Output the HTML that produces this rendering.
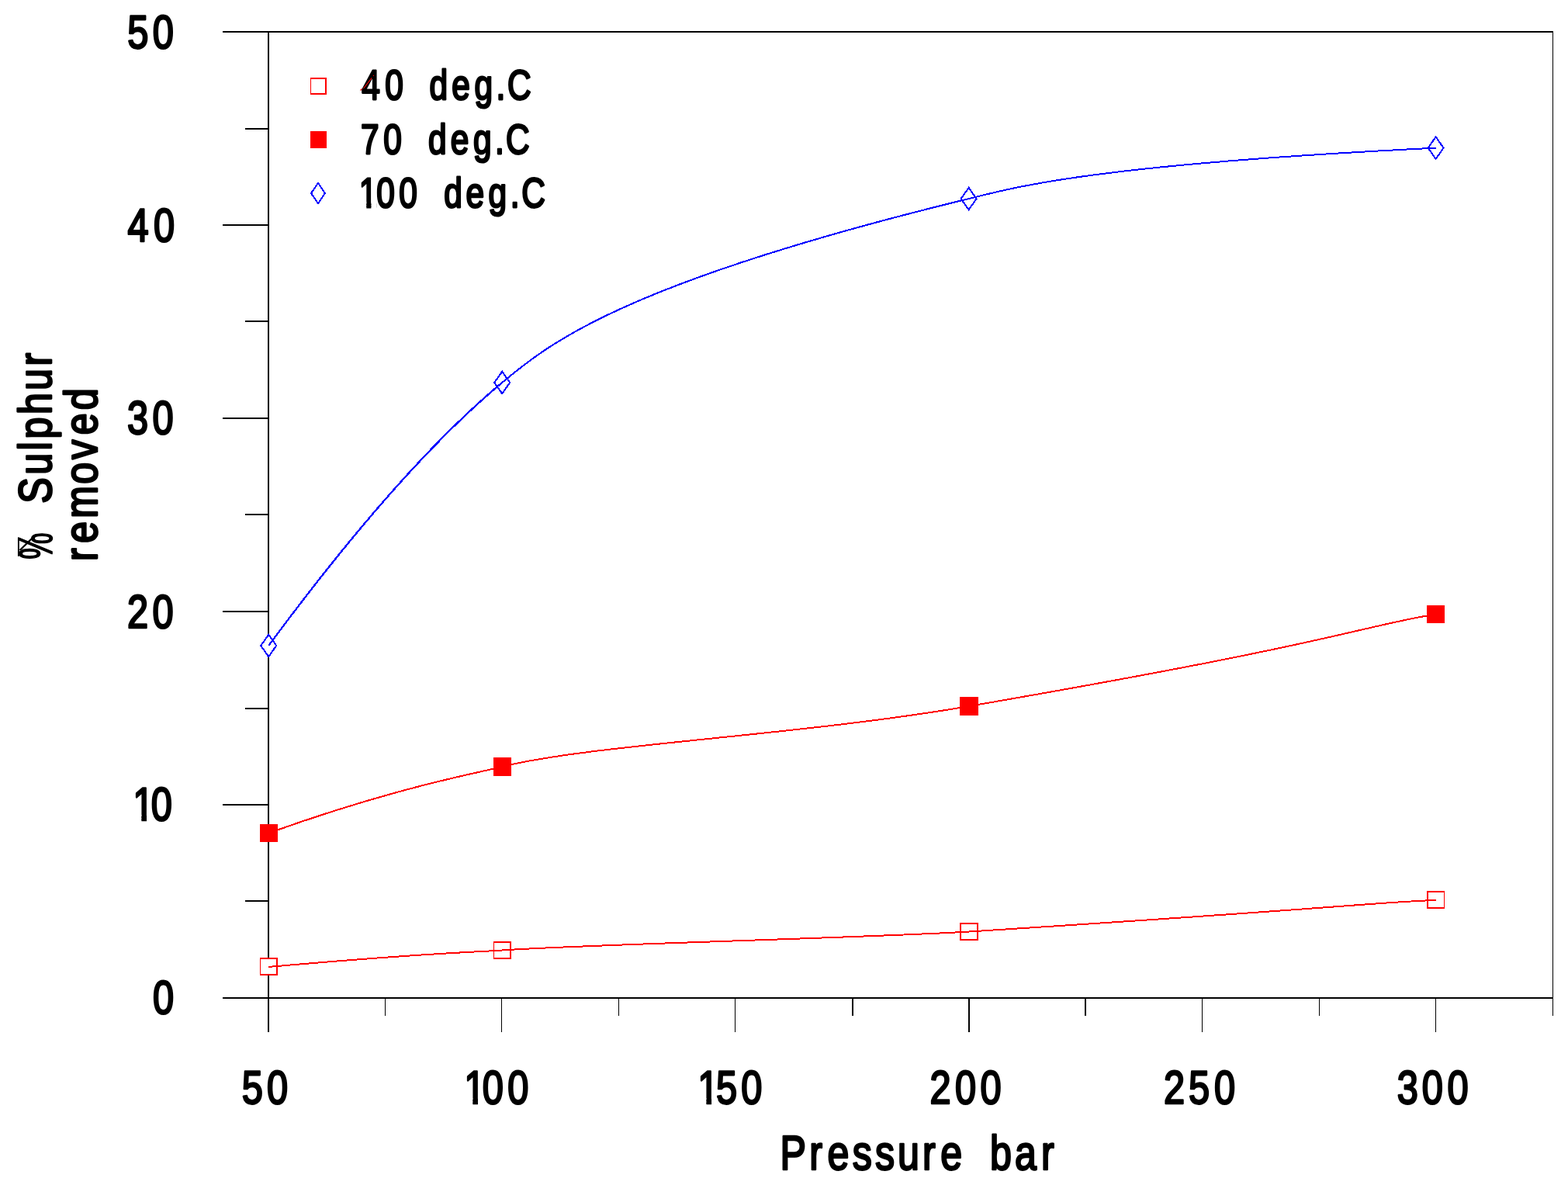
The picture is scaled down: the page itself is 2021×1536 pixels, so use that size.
<!DOCTYPE html>
<html lang="en"><head><meta charset="utf-8"><title>% Sulphur removed vs Pressure bar</title>
<style>html,body{margin:0;padding:0;background:#fff;overflow:hidden}svg{display:block}text{fill:#000;white-space:pre;text-rendering:geometricPrecision}</style></head><body>
<svg width="2021" height="1536" viewBox="0 0 2021 1536" role="img" aria-label="Percent sulphur removed versus pressure (bar) at 40, 70 and 100 deg.C">
<rect x="0" y="0" width="2021" height="1536" fill="#fff"/>
<defs><clipPath id="c1"><path d="M718.60,-80 H760.46 V-7.05 H760.46 V30 H752.34 V-7.05 H718.60 Z M768.04,-80 H4000 V40 H770.74 V-7.05 H768.04 Z"/></clipPath><clipPath id="c2"><path d="M1090.30,-80 H1132.16 V-7.05 H1132.16 V30 H1124.04 V-7.05 H1090.30 Z M1140.08,-80 H4000 V40 H1142.44 V-7.05 H1140.08 Z"/></clipPath><clipPath id="c3"><path d="M191.44,-80 H233.30 V-7.05 H233.30 V30 H225.18 V-7.05 H191.44 Z M240.91,-80 H4000 V40 H243.58 V-7.05 H240.91 Z"/></clipPath><clipPath id="c4"><path d="M569.56,-80 H609.37 V-6.63 H609.37 V30 H601.69 V-6.63 H569.56 Z M618.15,-80 H4000 V40 H618.61 V-6.63 H618.15 Z"/></clipPath></defs>
<g shape-rendering="crispEdges"><rect x="287" y="40" width="1715" height="2" fill="#000"/><rect x="287" y="1285" width="1715" height="2" fill="#000"/><rect x="345" y="40" width="2" height="1290" fill="#000"/><rect x="2001" y="40" width="1" height="1269" fill="#000"/><rect x="287" y="289" width="59" height="2" fill="#000"/><rect x="287" y="538" width="59" height="2" fill="#000"/><rect x="287" y="787" width="59" height="2" fill="#000"/><rect x="287" y="1036" width="59" height="2" fill="#000"/><rect x="316" y="165" width="30" height="2" fill="#000"/><rect x="316" y="413" width="30" height="2" fill="#000"/><rect x="316" y="662" width="30" height="2" fill="#000"/><rect x="316" y="912" width="30" height="2" fill="#000"/><rect x="316" y="1160" width="30" height="2" fill="#000"/><rect x="496" y="1286" width="1" height="23" fill="#000"/><rect x="646" y="1286" width="1" height="44" fill="#000"/><rect x="797" y="1286" width="1" height="23" fill="#000"/><rect x="947" y="1286" width="1" height="44" fill="#000"/><rect x="1098" y="1286" width="2" height="23" fill="#000"/><rect x="1248" y="1286" width="2" height="44" fill="#000"/><rect x="1398" y="1286" width="2" height="23" fill="#000"/><rect x="1549" y="1286" width="1" height="44" fill="#000"/><rect x="1700" y="1286" width="1" height="23" fill="#000"/><rect x="1850" y="1286" width="1" height="44" fill="#000"/></g>
<g shape-rendering="crispEdges"><rect x="335" y="1234" width="23" height="23" fill="#f00"/><rect x="336" y="1236" width="20" height="19" fill="#fff"/><rect x="636" y="1213" width="23" height="23" fill="#f00"/><rect x="637" y="1215" width="20" height="19" fill="#fff"/><rect x="1237" y="1189" width="24" height="23" fill="#f00"/><rect x="1239" y="1191" width="20" height="19" fill="#fff"/><rect x="1839" y="1148" width="23" height="23" fill="#f00"/><rect x="1841" y="1150" width="20" height="19" fill="#fff"/><rect x="335" y="1062" width="23" height="23" fill="#f00"/><rect x="636" y="976" width="23" height="24" fill="#f00"/><rect x="1237" y="898" width="24" height="24" fill="#f00"/><rect x="1839" y="780" width="23" height="23" fill="#f00"/><path d="M346.2,817.8 L356.2,832.0 L346.2,846.2 L336.2,832.0 Z" fill="#fff" stroke="#00f" stroke-width="2" stroke-linejoin="miter"/><path d="M647.2,478.8 L657.2,493.0 L647.2,507.2 L637.2,493.0 Z" fill="#fff" stroke="#00f" stroke-width="2" stroke-linejoin="miter"/><path d="M1248.6,241.9 L1258.6,256.1 L1248.6,270.3 L1238.6,256.1 Z" fill="#fff" stroke="#00f" stroke-width="2" stroke-linejoin="miter"/><path d="M1850.6,176.4 L1860.6,190.6 L1850.6,204.8 L1840.6,190.6 Z" fill="#fff" stroke="#00f" stroke-width="2" stroke-linejoin="miter"/><rect x="400" y="100" width="21" height="22" fill="#f00"/><rect x="401" y="102" width="18" height="18" fill="#fff"/><rect x="400" y="169" width="21" height="22" fill="#f00"/><path d="M410.0,235.8 L419.0,249.0 L410.0,262.2 L401.0,249.0 Z" fill="#fff" stroke="#00f" stroke-width="2" stroke-linejoin="miter"/></g>
<g shape-rendering="crispEdges"><path d="M345.6,1246.0 C551.5,1227.7 617.2,1226.7 647.4,1224.5 C742.9,1217.4 1131.0,1208.0 1249.0,1200.5 C1730.6,1170.0 1790.8,1161.3 1851.0,1160.0" fill="none" stroke="#f00" stroke-width="2"/><path d="M346.4,1073.5 C510.5,1014.4 617.3,995.7 647.4,988.0 C760.1,959.3 1027.7,948.2 1249.0,910.0 C1730.2,827.0 1752.5,807.4 1850.5,791.5" fill="none" stroke="#f00" stroke-width="2"/><path d="M346.2,832.0 C516.5,601.8 617.1,518.0 647.2,493.0" fill="none" stroke="#00f" stroke-width="2.3"/><path d="M647.2,493.0 C707.3,443.0 801.3,365.0 1248.6,256.1" fill="none" stroke="#00f" stroke-width="2.05"/><path d="M1248.6,256.1 C1308.8,241.4 1403.3,212.7 1850.6,190.6" fill="none" stroke="#00f" stroke-width="2"/></g>
<g transform="translate(0,1422.30) scale(0.8100,1)"><text font-family="'Liberation Sans', Arial, Helvetica, sans-serif" font-size="60.20" stroke="#000" stroke-width="2.70" stroke-linejoin="round" x="384.99 424.68" y="0">50</text></g>
<g transform="translate(0,1422.30) scale(0.8100,1)" clip-path="url(#c1)"><text font-family="'Liberation Sans', Arial, Helvetica, sans-serif" font-size="60.20" stroke="#000" stroke-width="2.70" stroke-linejoin="round" x="738.60 767.64 807.83" y="0">100</text></g>
<g transform="translate(0,1422.30) scale(0.8100,1)" clip-path="url(#c2)"><text font-family="'Liberation Sans', Arial, Helvetica, sans-serif" font-size="60.20" stroke="#000" stroke-width="2.70" stroke-linejoin="round" x="1110.30 1139.61 1179.43" y="0">150</text></g>
<g transform="translate(0,1422.30) scale(0.8100,1)"><text font-family="'Liberation Sans', Arial, Helvetica, sans-serif" font-size="60.20" stroke="#000" stroke-width="2.70" stroke-linejoin="round" x="1479.74 1519.68 1559.74" y="0">200</text></g>
<g transform="translate(0,1422.30) scale(0.8100,1)"><text font-family="'Liberation Sans', Arial, Helvetica, sans-serif" font-size="60.20" stroke="#000" stroke-width="2.70" stroke-linejoin="round" x="1851.84 1891.28 1932.15" y="0">250</text></g>
<g transform="translate(0,1422.30) scale(0.8100,1)"><text font-family="'Liberation Sans', Arial, Helvetica, sans-serif" font-size="60.20" stroke="#000" stroke-width="2.70" stroke-linejoin="round" x="2223.31 2262.77 2303.01" y="0">300</text></g>
<g transform="translate(0,61.60) scale(0.8100,1)"><text font-family="'Liberation Sans', Arial, Helvetica, sans-serif" font-size="60.20" stroke="#000" stroke-width="2.70" stroke-linejoin="round" x="202.64 242.89" y="0">50</text></g>
<g transform="translate(0,311.30) scale(0.8100,1)"><text font-family="'Liberation Sans', Arial, Helvetica, sans-serif" font-size="60.20" stroke="#000" stroke-width="2.70" stroke-linejoin="round" x="203.08 244.31" y="0">40</text></g>
<g transform="translate(0,559.40) scale(0.8100,1)"><text font-family="'Liberation Sans', Arial, Helvetica, sans-serif" font-size="60.20" stroke="#000" stroke-width="2.70" stroke-linejoin="round" x="202.39 242.46" y="0">30</text></g>
<g transform="translate(0,808.90) scale(0.8100,1)"><text font-family="'Liberation Sans', Arial, Helvetica, sans-serif" font-size="60.20" stroke="#000" stroke-width="2.70" stroke-linejoin="round" x="202.33 242.46" y="0">20</text></g>
<g transform="translate(0,1057.00) scale(0.8100,1)" clip-path="url(#c3)"><text font-family="'Liberation Sans', Arial, Helvetica, sans-serif" font-size="60.20" stroke="#000" stroke-width="2.70" stroke-linejoin="round" x="211.44 240.51" y="0">10</text></g>
<g transform="translate(0,1306.30) scale(0.8100,1)"><text font-family="'Liberation Sans', Arial, Helvetica, sans-serif" font-size="60.20" stroke="#000" stroke-width="2.70" stroke-linejoin="round" x="243.32" y="0">0</text></g>
<g transform="translate(0,1506.75) scale(0.8050,1)"><text font-family="'Liberation Sans', Arial, Helvetica, sans-serif" font-size="62.30" stroke="#000" stroke-width="2.70" stroke-linejoin="round" x="1249.12 1296.09 1324.85 1364.93 1401.33 1437.26 1476.96 1505.84 1540.49 1585.08 1624.83 1667.21" y="0">Pressure bar</text></g>
<g transform="translate(0,127.80) scale(0.7850,1)"><text font-family="'Liberation Sans', Arial, Helvetica, sans-serif" font-size="54.00" stroke="#000" stroke-width="2.80" stroke-linejoin="round" x="594.01 632.05 662.09 705.14 741.66 778.84 814.66 833.02" y="0">40 deg.C</text></g>
<g transform="translate(0,198.00) scale(0.7850,1)"><text font-family="'Liberation Sans', Arial, Helvetica, sans-serif" font-size="54.00" stroke="#000" stroke-width="2.80" stroke-linejoin="round" x="592.41 629.76 659.79 703.30 739.81 777.06 812.69 830.73" y="0">70 deg.C</text></g>
<g transform="translate(0,267.00) scale(0.7850,1)" clip-path="url(#c4)"><text font-family="'Liberation Sans', Arial, Helvetica, sans-serif" font-size="54.00" stroke="#000" stroke-width="2.80" stroke-linejoin="round" x="589.56 618.04 655.11 685.14 728.84 764.85 801.77 837.85 856.40" y="0">100 deg.C</text></g>
<path d="M464.5,116.5 L466.5,114.5 M468.5,114 L479.2,100.3 M481,97.8 L481.8,97" stroke="#f00" stroke-width="1.1" fill="none"/>
<g transform="translate(66.95,0) rotate(-90) scale(0.6400,1)"><text font-family="'Liberation Sans', Arial, Helvetica, sans-serif" font-size="60.50" stroke="#000" stroke-width="1.70" stroke-linejoin="round" x="-1126.04" y="0">%</text></g>
<path d="M23.9,692.3 V716.8" stroke="#000" stroke-width="1.9" fill="none"/><path d="M25.6,709 L43.3,691.8" stroke="#000" stroke-width="2.3" fill="none"/>
<g transform="translate(65.95,0) rotate(-90) scale(0.8380,1)"><text font-family="'Liberation Sans', Arial, Helvetica, sans-serif" font-size="59.80" stroke="#000" stroke-width="2.70" stroke-linejoin="round" x="-774.16 -730.07 -692.81 -674.82 -637.17 -600.12 -562.64" y="0">Sulphur</text></g>
<g transform="translate(124.85,0) rotate(-90) scale(0.8380,1)"><text font-family="'Liberation Sans', Arial, Helvetica, sans-serif" font-size="59.80" stroke="#000" stroke-width="2.70" stroke-linejoin="round" x="-862.82 -835.13 -796.76 -744.43 -706.00 -668.66 -630.46" y="0">removed</text></g>
</svg></body></html>
